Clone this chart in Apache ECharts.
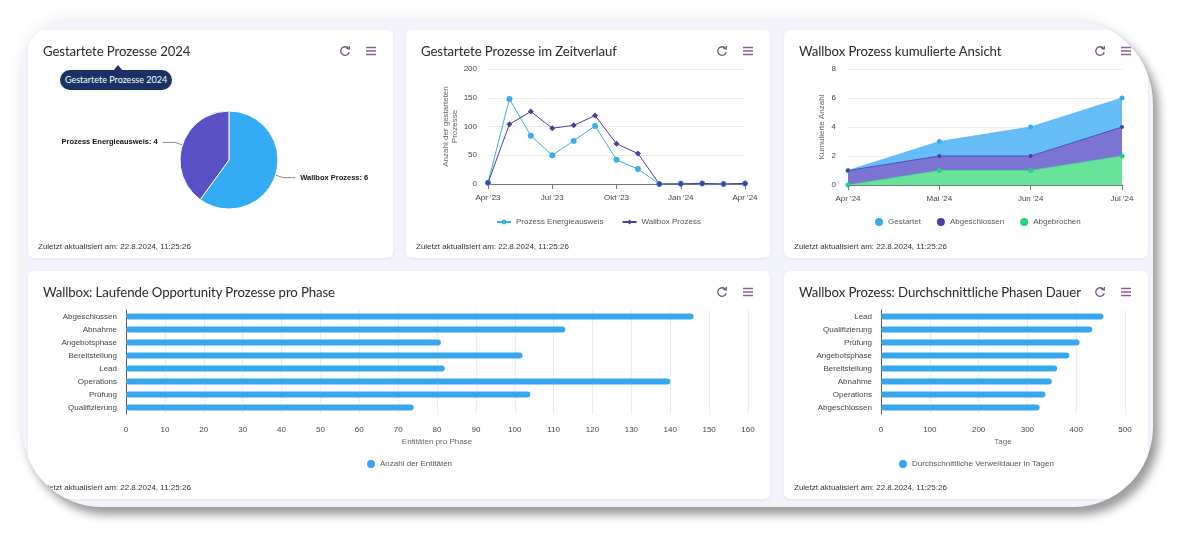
<!DOCTYPE html>
<html>
<head>
<meta charset="utf-8">
<script src="https://cdn.jsdelivr.net/npm/echarts@6/dist/echarts.min.js"></script>
<style>
body{margin:0;width:1196px;height:549px;background:#fff;position:relative;overflow:hidden;font-family:Lato,sans-serif}
#frame{position:absolute;left:22px;top:19px;width:1131px;height:488px;background:#f3f3fb;
  border-radius:50px 85px 80px 80px;overflow:hidden;
  box-shadow:6px 8px 10px rgba(0,0,0,0.38),-2px -2px 14px rgba(0,0,0,0.06)}
.card{position:absolute;background:#fff;border-radius:6px;box-shadow:0 1px 3px rgba(0,0,0,0.07)}
.chart{position:absolute;left:0;top:0;width:100%;height:100%}
.title{position:absolute;left:15px;top:13px;font-size:13.2px;letter-spacing:-0.1px;line-height:16px;color:#2a2a2a;white-space:nowrap}
.foot{position:absolute;left:10px;top:212px;font:8px/10px 'Liberation Sans',sans-serif;color:#333;white-space:nowrap}
.icon{position:absolute;top:14px;width:14px;height:14px}
.tip{position:absolute;left:32px;top:40px;width:112px;height:20px;border-radius:10px;background:#1a3263;
  color:#fff;font-size:9px;line-height:20px;text-align:center}
.tip:before{content:'';position:absolute;left:53px;top:-5px;border-left:5px solid transparent;border-right:5px solid transparent;border-bottom:6px solid #1a3263}
</style>
</head>
<body>
<div id="frame">
  <div class="card" style="left:6px;top:11px;width:365px;height:228px">
    <div class="chart" id="c1"></div>
    <div class="title">Gestartete Prozesse 2024</div>
    <div class="tip">Gestartete Prozesse 2024</div>
    <div class="foot">Zuletzt aktualisiert am: 22.8.2024, 11:25:26</div>
  </div>
  <div class="card" style="left:384px;top:11px;width:364px;height:228px">
    <div class="chart" id="c2"></div>
    <div class="title">Gestartete Prozesse im Zeitverlauf</div>
    <div class="foot">Zuletzt aktualisiert am: 22.8.2024, 11:25:26</div>
  </div>
  <div class="card" style="left:762px;top:11px;width:364px;height:228px">
    <div class="chart" id="c3"></div>
    <div class="title">Wallbox Prozess kumulierte Ansicht</div>
    <div class="foot">Zuletzt aktualisiert am: 22.8.2024, 11:25:26</div>
  </div>
  <div class="card" style="left:6px;top:252px;width:742px;height:228px">
    <div class="chart" id="c4"></div>
    <div class="title">Wallbox: Laufende Opportunity Prozesse pro Phase</div>
    <div class="foot">Zuletzt aktualisiert am: 22.8.2024, 11:25:26</div>
  </div>
  <div class="card" style="left:762px;top:252px;width:364px;height:228px">
    <div class="chart" id="c5"></div>
    <div class="title">Wallbox Prozess: Durchschnittliche Phasen Dauer</div>
    <div class="foot">Zuletzt aktualisiert am: 22.8.2024, 11:25:26</div>
  </div>
</div>
<script>
// pie
var pieNames = ['Wallbox Prozess', 'Prozess Energieausweis'];
var pieValues = [6, 4];
var pieColors = ['#33acf5', '#5850c4'];

// Zeitverlauf
var months = ["Apr '23","Mai '23","Jun '23","Jul '23","Aug '23","Sep '23","Okt '23","Nov '23","Dez '23","Jan '24","Feb '24","Mär '24","Apr '24"];
var energieausweis = [2, 148, 84, 50, 75, 101, 42, 26, 0, 1, 1, 0, 1];
var wallboxVerlauf = [2, 104, 126, 97, 102, 119, 70, 53, 0, 0, 1, 0, 1];

// kumulierte Ansicht
var kumMonths = ["Apr '24", "Mai '24", "Jun '24", "Jul '24"];
var gestartet = [1, 3, 4, 6];
var abgeschlossen = [1, 2, 2, 4];
var abgebrochen = [0, 1, 1, 2];

// laufende Prozesse pro Phase
var phasen = ['Abgeschlossen','Abnahme','Angebotsphase','Bereitstellung','Lead','Operations','Prüfung','Qualifizierung'];
var entitaeten = [146, 113, 81, 102, 82, 140, 104, 74];

// Phasen Dauer
var dauerPhasen = ['Lead','Qualifizierung','Prüfung','Angebotsphase','Bereitstellung','Abnahme','Operations','Abgeschlossen'];
var dauerTage = [456, 433, 407, 386, 361, 350, 337, 325];

var FONT = 'Liberation Sans';
var txt = {fontFamily: FONT, fontSize: 8, color: '#444'};

// header icons
document.querySelectorAll('.card').forEach(function (card) {
    var w = card.offsetWidth;
    card.insertAdjacentHTML('beforeend',
        '<svg class="icon" style="left:' + (w - 55) + 'px" viewBox="0 0 14 14">' +
        '<path d="M10.6 4.6 A4.3 4.3 0 1 0 11.2 8.2" fill="none" stroke="#6e4f7a" stroke-width="1.3"/>' +
        '<path d="M8.4 4.3 L11.2 5.0 L11.4 2.0" fill="none" stroke="#6e4f7a" stroke-width="1.3"/></svg>' +
        '<svg class="icon" style="left:' + (w - 29) + 'px" viewBox="0 0 14 14">' +
        '<path d="M2 3.5H12M2 7H12M2 10.5H12" stroke="#8a5e96" stroke-width="1.3"/></svg>');
});

// 1 pie
var c1 = echarts.init(document.getElementById('c1'));
c1.setOption({
    animation: false,
    color: pieColors,
    series: [{
        type: 'pie',
        center: [201, 130],
        radius: 49,
        startAngle: 90,
        itemStyle: {borderColor: '#fff', borderWidth: 1},
        label: {formatter: '{b}: {c}', fontFamily: FONT, fontSize: 7.5, fontWeight: 'bold', color: '#111'},
        labelLine: {length: 8, length2: 12, lineStyle: {color: '#8a8a8a', width: 1}},
        data: pieNames.map(function (n, i) { return {name: n, value: pieValues[i]}; })
    }]
});

// 2 line
var c2 = echarts.init(document.getElementById('c2'));
c2.setOption({
    animation: false,
    color: ['#3aaee6', '#4b3d99'],
    legend: {
        top: 183, left: 85, itemWidth: 14, itemHeight: 6, itemGap: 18,
        textStyle: {fontFamily: FONT, fontSize: 8, color: '#555'},
        data: ['Prozess Energieausweis', 'Wallbox Prozess']
    },
    grid: {left: 82, right: 25, top: 39, bottom: 74},
    xAxis: {
        type: 'category', boundaryGap: false, data: months,
        axisLine: {lineStyle: {color: '#777'}},
        axisTick: {interval: 2, length: 5, lineStyle: {color: '#777'}},
        axisLabel: Object.assign({interval: 2, margin: 10}, txt)
    },
    yAxis: {
        type: 'value', min: 0, max: 200, interval: 50,
        name: 'Anzahl der gestarteten\nProzesse', nameLocation: 'middle', nameGap: 29,
        nameMoveOverlap: false,
        nameTextStyle: {fontFamily: FONT, fontSize: 8, color: '#666', lineHeight: 9},
        axisLabel: Object.assign({margin: 11}, txt),
        splitLine: {lineStyle: {color: '#ececec'}}
    },
    series: [
        {name: 'Prozess Energieausweis', type: 'line', data: energieausweis, symbol: 'circle', symbolSize: 6, lineStyle: {width: 1}},
        {name: 'Wallbox Prozess', type: 'line', data: wallboxVerlauf, symbol: 'diamond', symbolSize: 6, lineStyle: {width: 1}}
    ]
});

// 3 area
var c3 = echarts.init(document.getElementById('c3'));
c3.setOption({
    animation: false,
    color: ['#38aaf0', '#4a3ea8', '#20d47a'],
    legend: {
        top: 183, left: 86, icon: 'circle', itemWidth: 8, itemHeight: 8, itemGap: 16,
        textStyle: {fontFamily: FONT, fontSize: 8, color: '#555'}
    },
    grid: {left: 64, right: 26, top: 39, bottom: 73},
    xAxis: {
        type: 'category', boundaryGap: false, data: kumMonths,
        axisLine: {lineStyle: {color: '#777'}},
        axisTick: {length: 5, lineStyle: {color: '#777'}},
        axisLabel: Object.assign({margin: 10}, txt)
    },
    yAxis: {
        type: 'value', min: 0, max: 8, interval: 2,
        name: 'Kumulierte Anzahl', nameLocation: 'middle', nameGap: 22,
        nameMoveOverlap: false,
        nameTextStyle: {fontFamily: FONT, fontSize: 8, color: '#666'},
        axisLabel: Object.assign({margin: 12}, txt),
        splitLine: {lineStyle: {color: '#ececec'}}
    },
    series: [
        {name: 'Gestartet', type: 'line', data: gestartet, symbol: 'circle', symbolSize: 5,
            lineStyle: {width: 0.8, color: '#5ab6f2'}, areaStyle: {color: '#66bdf6', opacity: 1}},
        {name: 'Abgeschlossen', type: 'line', data: abgeschlossen, symbol: 'circle', symbolSize: 4,
            lineStyle: {width: 0.8, color: '#4a3ea8'}, areaStyle: {color: '#7b74d2', opacity: 1}},
        {name: 'Abgebrochen', type: 'line', data: abgebrochen, symbol: 'circle', symbolSize: 5,
            lineStyle: {width: 0.8, color: '#4fd98a'}, areaStyle: {color: '#67e39a', opacity: 1}}
    ]
});

// bar charts
function barOption(cats, vals, max, interval, axisName, seriesName, grid, legendLeft) {
    return {
        animation: false,
        color: ['#37a7ed'],
        legend: {
            top: 184, left: legendLeft, icon: 'circle', itemWidth: 8, itemHeight: 8,
            textStyle: {fontFamily: FONT, fontSize: 8, color: '#555'}
        },
        grid: grid,
        xAxis: {
            type: 'value', min: 0, max: max, interval: interval,
            name: axisName, nameLocation: 'middle', nameGap: 24,
            nameTextStyle: {fontFamily: FONT, fontSize: 8, color: '#666'},
            axisLabel: Object.assign({margin: 12}, txt),
            splitLine: {lineStyle: {color: '#ececec'}}
        },
        yAxis: {
            type: 'category', inverse: true, data: cats,
            axisLine: {lineStyle: {color: '#555'}},
            axisTick: {show: false},
            axisLabel: Object.assign({margin: 9}, txt)
        },
        series: [{name: seriesName, type: 'bar', data: vals, barWidth: 6, itemStyle: {borderRadius: 3}}]
    };
}
var c4 = echarts.init(document.getElementById('c4'));
c4.setOption(barOption(phasen, entitaeten, 160, 10, 'Entitäten pro Phase', 'Anzahl der Entitäten',
    {left: 98, right: 22, top: 39, bottom: 85}, 334));
var c5 = echarts.init(document.getElementById('c5'));
c5.setOption(barOption(dauerPhasen, dauerTage, 500, 100, 'Tage', 'Durchschnittliche Verweildauer in Tagen',
    {left: 97, right: 23, top: 39, bottom: 85}, 110));
</script>
</body>
</html>
